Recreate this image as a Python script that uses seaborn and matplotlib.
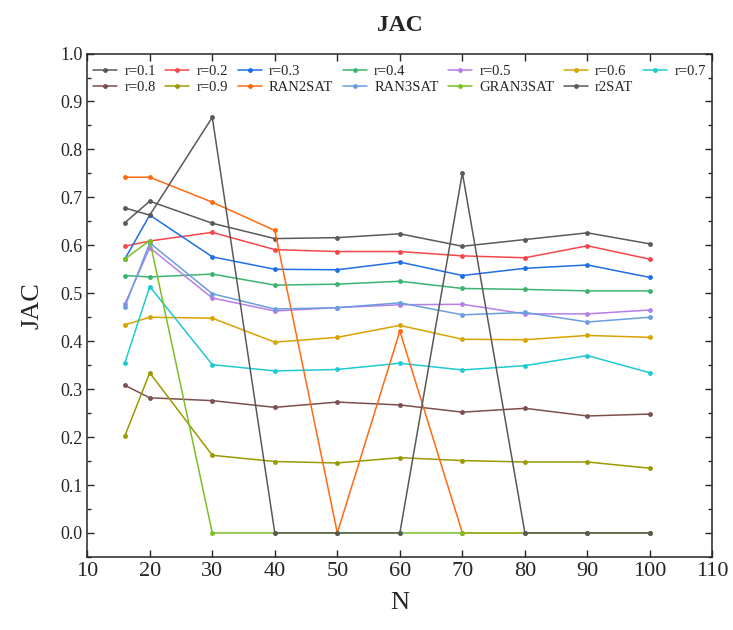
import numpy as np
import pandas as pd
import matplotlib
matplotlib.use("Agg")
import matplotlib.pyplot as plt
import seaborn as sns
from matplotlib.ticker import MultipleLocator

# x values (N)
n_vals = [16, 20, 30, 40, 50, 60, 70, 80, 90, 100]

# JAC per series
r01 = [0.647, 0.692, 0.646, 0.614, 0.616, 0.624, 0.598, 0.612, 0.626, 0.603]
r02 = [0.598, 0.609, 0.627, 0.591, 0.587, 0.587, 0.578, 0.574, 0.599, 0.571]
r03 = [0.571, 0.663, 0.576, 0.550, 0.549, 0.565, 0.537, 0.552, 0.559, 0.533]
r04 = [0.537, 0.534, 0.540, 0.517, 0.519, 0.525, 0.510, 0.508, 0.505, 0.505]
r05 = [0.477, 0.595, 0.490, 0.463, 0.470, 0.476, 0.477, 0.457, 0.457, 0.465]
r06 = [0.434, 0.450, 0.448, 0.398, 0.408, 0.433, 0.404, 0.403, 0.412, 0.408]
r07 = [0.354, 0.514, 0.351, 0.338, 0.341, 0.354, 0.340, 0.349, 0.370, 0.334]
r08 = [0.308, 0.282, 0.276, 0.262, 0.273, 0.267, 0.252, 0.260, 0.244, 0.248]
r09 = [0.202, 0.334, 0.162, 0.149, 0.146, 0.157, 0.151, 0.148, 0.148, 0.135]
ran2sat = [0.742, 0.742, 0.690, 0.631, 0.0, 0.421, 0.0, 0.0, 0.0, 0.0]
ran3sat = [0.471, 0.605, 0.499, 0.467, 0.470, 0.480, 0.455, 0.460, 0.440, 0.450]
gran3sat = [0.571, 0.610, 0.0, 0.0, 0.0, 0.0, 0.0, 0.0, 0.0, 0.0]
r2sat = [0.678, 0.663, 0.867, 0.0, 0.0, 0.0, 0.751, 0.0, 0.0, 0.0]

labels = ["r=0.1", "r=0.2", "r=0.3", "r=0.4", "r=0.5", "r=0.6", "r=0.7",
          "r=0.8", "r=0.9", "RAN2SAT", "RAN3SAT", "GRAN3SAT", "r2SAT"]
series = [r01, r02, r03, r04, r05, r06, r07, r08, r09, ran2sat, ran3sat, gran3sat, r2sat]
colors = ["#5a5a5a", "#f5474b", "#1f6fe5", "#3cb371", "#b77fe6", "#d9a400", "#1ecbd2",
          "#7d4f4f", "#9a9a00", "#ff6a13", "#6a9fdf", "#7ac023", "#595959"]

df = pd.DataFrame({
    "N": n_vals * len(labels),
    "JAC": [v for s in series for v in s],
    "method": [lab for lab in labels for _ in n_vals],
})

sns.set_style("ticks")
plt.rcParams["font.family"] = ["Liberation Serif", "DejaVu Serif"]
plt.rcParams["xtick.direction"] = "in"
plt.rcParams["ytick.direction"] = "in"

fig = plt.figure(figsize=(7.33, 6.3), dpi=100)
ax = fig.add_axes([0.119, 0.116, 0.853, 0.799])

sns.lineplot(data=df, x="N", y="JAC", hue="method", hue_order=labels,
             palette=dict(zip(labels, colors)), marker="o", markersize=3.5,
             markeredgewidth=0, linewidth=1.1, ax=ax)

ax.set_xlim(10, 110)
ax.set_ylim(-0.05, 1.0)
ax.xaxis.set_major_locator(MultipleLocator(10))
ax.set_yticks(np.arange(0, 1.01, 0.1))
ax.set_yticklabels([f"{v:.1f}" for v in np.arange(0, 1.01, 0.1)], fontsize=13)
ax.yaxis.set_minor_locator(MultipleLocator(0.05))
ax.tick_params(axis="x", labelsize=16, top=True, length=5, width=1)
ax.tick_params(axis="y", which="major", right=True, length=5, width=1)
ax.tick_params(axis="y", which="minor", right=True, length=3, width=1)
for sp in ax.spines.values():
    sp.set_linewidth(1.1)

ax.set_xlabel("N", fontsize=19, labelpad=8)
ax.set_ylabel("JAC", fontsize=19, labelpad=12)
ax.set_title("JAC", fontsize=17, fontweight="bold", pad=16)

# legend filled row-wise: 7 items top row, 6 below
handles, labs = ax.get_legend_handles_labels()
hmap = dict(zip(labs, handles))
order = ["r=0.1", "r=0.8", "r=0.2", "r=0.9", "r=0.3", "RAN2SAT", "r=0.4",
         "RAN3SAT", "r=0.5", "GRAN3SAT", "r=0.6", "r2SAT", "r=0.7"]
ax.legend([hmap[k] for k in order], order, ncol=7, loc="upper left",
          bbox_to_anchor=(0.0, 0.99), frameon=False, fontsize=10.5,
          handlelength=1.65, columnspacing=0.65, handletextpad=0.5,
          labelspacing=0.2, borderaxespad=0.2, borderpad=0.2)

fig.savefig("out.png", dpi=100)
